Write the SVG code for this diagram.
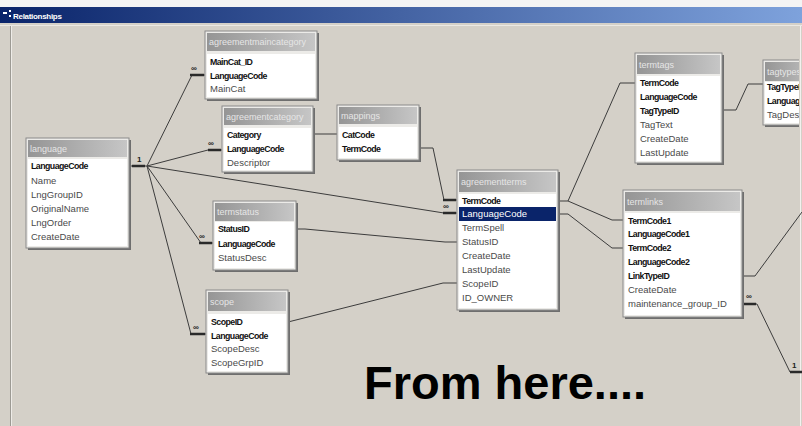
<svg xmlns="http://www.w3.org/2000/svg" width="802" height="426" viewBox="0 0 802 426">
  <defs>
    <linearGradient id="capGrad" x1="0" y1="0" x2="1" y2="0">
      <stop offset="0" stop-color="#0a246a"/>
      <stop offset="1" stop-color="#7ea2dc"/>
    </linearGradient>
    <linearGradient id="headGrad" x1="0" y1="0" x2="1" y2="0">
      <stop offset="0" stop-color="#959595"/>
      <stop offset="1" stop-color="#c6c6c6"/>
    </linearGradient>
    <clipPath id="winClip">
      <rect x="0" y="0" width="799" height="426"/>
    </clipPath>
  </defs>
  <style>
    .frame { fill: #ecebe8; stroke: #8a8a8a; stroke-width: 1; }
    .shadow { fill: #6e6e6e; }
    .head { fill: url(#headGrad); }
    .body { fill: #ffffff; }
    .ttl { font-family: "Liberation Sans", Arial, sans-serif; font-size: 9px; fill: #e6e6e6; }
    .key { font-family: "Liberation Sans", Arial, sans-serif; font-size: 8.8px; font-weight: bold; letter-spacing: -0.55px; fill: #111111; }
    .fld { font-family: "Liberation Sans", Arial, sans-serif; font-size: 9.5px; fill: #4a4a4a; }
    .sel { font-family: "Liberation Sans", Arial, sans-serif; font-size: 9.5px; fill: #ffffff; }
    .ln { fill: none; stroke: #3c3c3c; stroke-width: 1; }
    .bar { fill: none; stroke: #2a2a2a; stroke-width: 2.5; }
    .card { font-family: "Liberation Sans", Arial, sans-serif; font-size: 8px; font-weight: bold; fill: #222222; }
    .big { font-family: "Liberation Sans", Arial, sans-serif; font-size: 47px; font-weight: bold; fill: #000000; }
  </style>

  <!-- window chrome -->
  <rect x="0" y="0" width="802" height="426" fill="#d4d0c8"/>
  <rect x="0" y="0" width="802" height="7" fill="#f4f4f4"/>
  <rect x="0" y="7" width="802" height="16" fill="url(#capGrad)"/>
  <rect x="3" y="12" width="4" height="2" fill="#ffffff"/>
  <rect x="9" y="10" width="2" height="2" fill="#ffffff"/>
  <rect x="9" y="15" width="2" height="2" fill="#ffffff"/>
  <text x="13" y="19" font-family="'Liberation Sans', Arial, sans-serif" font-size="8" font-weight="bold" fill="#ffffff" letter-spacing="-0.3">Relationships</text>
  <line x1="0" y1="25.5" x2="802" y2="25.5" stroke="#ebe9e4"/>
  <line x1="10.5" y1="26" x2="10.5" y2="426" stroke="#9c9a94"/>
  <line x1="11.5" y1="26" x2="11.5" y2="426" stroke="#eeece8"/>
  <line x1="800.5" y1="26" x2="800.5" y2="426" stroke="#f2f1ee"/>

  <!-- relationship lines -->
  <g id="connectors">
    <!-- language.LanguageCode hub -->
    <path class="ln" d="M129,166 H147"/>
    <path class="bar" d="M132,166 H145"/>
    <text class="card" x="137" y="162">1</text>
    <path class="ln" d="M147,166 L192,75 H205"/>
    <path class="bar" d="M190,75 H204"/>
    <text class="card" x="191" y="71">∞</text>
    <path class="ln" d="M147,166 L208,150 H222"/>
    <path class="bar" d="M208,150 H221"/>
    <text class="card" x="208" y="146">∞</text>
    <path class="ln" d="M147,166 L444,213 H457"/>
    <path class="ln" d="M147,166 L201,243 H213"/>
    <path class="bar" d="M199,243 H212"/>
    <text class="card" x="199" y="239">∞</text>
    <path class="ln" d="M147,166 L191,334 H206"/>
    <path class="bar" d="M190,334 H205"/>
    <text class="card" x="193" y="330">∞</text>
    <!-- mappings.TermCode to agreementterms.TermCode -->
    <path class="ln" d="M419,148 H433 L444,200 H457"/>
    <path class="bar" d="M443,200 H456"/>
    <path class="bar" d="M443,213 H456"/>
    <text class="card" x="443" y="209">∞</text>
    <!-- category to mappings -->
    <path class="ln" d="M313,134 H337"/>
    <!-- termstatus / scope to agreementterms -->
    <path class="ln" d="M296,229 H305 L445,242 H457"/>
    <path class="ln" d="M288,322 L443,283 H457"/>
    <!-- agreementterms to termtags / termlinks -->
    <path class="ln" d="M558,201 H568 L620,83 H635"/>
    <path class="ln" d="M568,201 L612,220 H623"/>
    <path class="ln" d="M558,214 H568 L612,248 H623"/>
    <!-- termtags to tagtypes -->
    <path class="ln" d="M722,110 H736 L748,84 H763"/>
    <!-- termlinks onward -->
    <path class="ln" d="M742,276 H755 L802,212"/>
    <path class="ln" d="M742,304 H757 L790,372 H802"/>
    <path class="bar" d="M744,304 H756"/>
    <text class="card" x="746" y="299">∞</text>
    <path class="bar" d="M790,372 H802"/>
    <text class="card" x="792" y="368">1</text>
  </g>

  <!-- tables -->
  <g id="agreementmaincategory">
    <rect class="shadow" x="207" y="33" width="112" height="68"/>
    <rect class="frame" x="205" y="31" width="112" height="68"/>
    <rect class="head" x="207" y="33" width="108" height="18"/>
    <text class="ttl" x="209" y="45">agreementmaincategory</text>
    <rect class="body" x="207" y="54" width="108" height="43"/>
    <text class="key" x="210" y="65">MainCat_ID</text>
    <text class="key" x="210" y="79">LanguageCode</text>
    <text class="fld" x="210" y="92">MainCat</text>
  </g>

  <g id="agreementcategory">
    <rect class="shadow" x="224" y="108" width="91" height="66"/>
    <rect class="frame" x="222" y="106" width="91" height="66"/>
    <rect class="head" x="224" y="108" width="87" height="17"/>
    <text class="ttl" x="226" y="120">agreementcategory</text>
    <rect class="body" x="224" y="128" width="87" height="42"/>
    <text class="key" x="227" y="138">Category</text>
    <text class="key" x="227" y="152">LanguageCode</text>
    <text class="fld" x="227" y="166">Descriptor</text>
  </g>

  <g id="mappings">
    <rect class="shadow" x="339" y="107" width="82" height="55"/>
    <rect class="frame" x="337" y="105" width="82" height="55"/>
    <rect class="head" x="339" y="107" width="78" height="17"/>
    <text class="ttl" x="341" y="119">mappings</text>
    <rect class="body" x="339" y="127" width="78" height="31"/>
    <text class="key" x="342" y="138">CatCode</text>
    <text class="key" x="342" y="152">TermCode</text>
  </g>

  <g id="agreementterms">
    <rect class="shadow" x="459" y="172" width="101" height="140"/>
    <rect class="frame" x="457" y="170" width="101" height="140"/>
    <rect class="head" x="459" y="172" width="97" height="20"/>
    <text class="ttl" x="461" y="185">agreementterms</text>
    <rect class="body" x="459" y="194" width="97" height="114"/>
    <rect x="459" y="207" width="97" height="14" fill="#0a246a"/>
    <text class="key" x="462" y="204">TermCode</text>
    <text class="sel" x="462" y="217">LanguageCode</text>
    <text class="fld" x="462" y="231">TermSpell</text>
    <text class="fld" x="462" y="245">StatusID</text>
    <text class="fld" x="462" y="259">CreateDate</text>
    <text class="fld" x="462" y="273">LastUpdate</text>
    <text class="fld" x="462" y="287">ScopeID</text>
    <text class="fld" x="462" y="301">ID_OWNER</text>
  </g>

  <g id="language">
    <rect class="shadow" x="28" y="140" width="103" height="110"/>
    <rect class="frame" x="26" y="138" width="103" height="110"/>
    <rect class="head" x="28" y="140" width="99" height="17"/>
    <text class="ttl" x="30" y="152">language</text>
    <rect class="body" x="28" y="159" width="99" height="87"/>
    <text class="key" x="31" y="169">LanguageCode</text>
    <text class="fld" x="31" y="184">Name</text>
    <text class="fld" x="31" y="198">LngGroupID</text>
    <text class="fld" x="31" y="212">OriginalName</text>
    <text class="fld" x="31" y="226">LngOrder</text>
    <text class="fld" x="31" y="240">CreateDate</text>
  </g>

  <g id="termstatus">
    <rect class="shadow" x="215" y="203" width="83" height="69"/>
    <rect class="frame" x="213" y="201" width="83" height="69"/>
    <rect class="head" x="215" y="203" width="79" height="18"/>
    <text class="ttl" x="217" y="215">termstatus</text>
    <rect class="body" x="215" y="222" width="79" height="46"/>
    <text class="key" x="218" y="232">StatusID</text>
    <text class="key" x="218" y="247">LanguageCode</text>
    <text class="fld" x="218" y="261">StatusDesc</text>
  </g>

  <g id="scope">
    <rect class="shadow" x="208" y="292" width="82" height="83"/>
    <rect class="frame" x="206" y="290" width="82" height="83"/>
    <rect class="head" x="208" y="292" width="78" height="19"/>
    <text class="ttl" x="210" y="305">scope</text>
    <rect class="body" x="208" y="314" width="78" height="57"/>
    <text class="key" x="211" y="325">ScopeID</text>
    <text class="key" x="211" y="339">LanguageCode</text>
    <text class="fld" x="211" y="352">ScopeDesc</text>
    <text class="fld" x="211" y="366">ScopeGrpID</text>
  </g>

  <g id="termtags">
    <rect class="shadow" x="637" y="55" width="87" height="110"/>
    <rect class="frame" x="635" y="53" width="87" height="110"/>
    <rect class="head" x="637" y="55" width="83" height="19"/>
    <text class="ttl" x="639" y="68">termtags</text>
    <rect class="body" x="637" y="76" width="83" height="85"/>
    <text class="key" x="640" y="86">TermCode</text>
    <text class="key" x="640" y="100">LanguageCode</text>
    <text class="key" x="640" y="114">TagTypeID</text>
    <text class="fld" x="640" y="128">TagText</text>
    <text class="fld" x="640" y="142">CreateDate</text>
    <text class="fld" x="640" y="156">LastUpdate</text>
  </g>

  <g id="tagtypes" clip-path="url(#winClip)">
    <rect class="shadow" x="765" y="62" width="60" height="65"/>
    <rect class="frame" x="763" y="60" width="60" height="65"/>
    <rect class="head" x="765" y="62" width="56" height="19"/>
    <text class="ttl" x="767" y="75">tagtypes</text>
    <rect class="body" x="765" y="82" width="56" height="41"/>
    <text class="key" x="767" y="90">TagTypeID</text>
    <text class="key" x="767" y="104">LanguageCode</text>
    <text class="fld" x="767" y="118">TagDesc</text>
  </g>

  <g id="termlinks">
    <rect class="shadow" x="625" y="192" width="119" height="127"/>
    <rect class="frame" x="623" y="190" width="119" height="127"/>
    <rect class="head" x="625" y="192" width="115" height="19"/>
    <text class="ttl" x="627" y="205">termlinks</text>
    <rect class="body" x="625" y="213" width="115" height="102"/>
    <text class="key" x="628" y="224">TermCode1</text>
    <text class="key" x="628" y="237">LanguageCode1</text>
    <text class="key" x="628" y="251">TermCode2</text>
    <text class="key" x="628" y="265">LanguageCode2</text>
    <text class="key" x="628" y="279">LinkTypeID</text>
    <text class="fld" x="628" y="293">CreateDate</text>
    <text class="fld" x="628" y="307">maintenance_group_ID</text>
  </g>

  <text class="big" x="364" y="399">From here....</text>
</svg>
